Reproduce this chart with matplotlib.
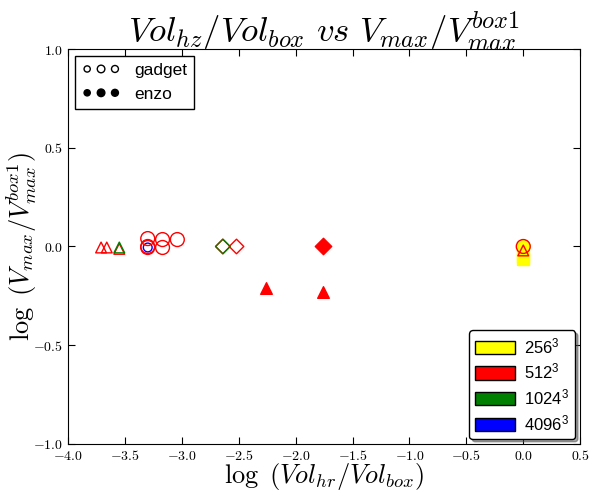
import matplotlib
matplotlib.use("Agg")
import matplotlib.pyplot as plt
from matplotlib.patches import Patch
from matplotlib.legend_handler import HandlerPathCollection
import numpy as np

plt.rcParams['mathtext.fontset'] = 'cm'
plt.rcParams['font.family'] = ['Liberation Sans', 'DejaVu Sans']

# ---- data ----
res_labels = ['256$\\mathregular{^3}$', '512$\\mathregular{^3}$', '1024$\\mathregular{^3}$', '4096$\\mathregular{^3}$']
res_colors = ['yellow', 'red', 'green', 'blue']

# gadget (open markers)
g512_tri_x = [-3.71, -3.66, -3.55, 0.0]
g512_tri_y = [-0.005, -0.005, -0.012, -0.02]
g1024_tri_x = [-3.55]
g1024_tri_y = [-0.005]
g512_circ_x = [-3.30, -3.17, -3.04, -3.30, -3.17, -3.30, 0.0]
g512_circ_y = [0.04, 0.035, 0.035, 0.0, -0.005, -0.005, 0.0]
g4096_circ_x = [-3.30]
g4096_circ_y = [-0.005]
g512_dia_x = [-2.64, -2.52]
g512_dia_y = [0.0, 0.0]
g1024_dia_x = [-2.64]
g1024_dia_y = [0.0]

# enzo (filled markers)
e256_circ_x = [0.0]
e256_circ_y = [0.0]
e256_sq_x = [0.0, 0.0]
e256_sq_y = [-0.05, -0.065]
e512_dia_x = [-1.76]
e512_dia_y = [0.0]
e512_tri_x = [-2.26, -1.76]
e512_tri_y = [-0.21, -0.23]

xticks = [-4.0, -3.5, -3.0, -2.5, -2.0, -1.5, -1.0, -0.5, 0.0, 0.5]
yticks = [-1.0, -0.5, 0.0, 0.5, 1.0]

fig = plt.figure(figsize=(5.92, 4.92), dpi=100)
ax = fig.add_axes([0.115, 0.0976, 0.865, 0.8028])

# enzo filled
ax.scatter(e256_sq_x, e256_sq_y, s=70, marker='s', c='yellow', edgecolors='yellow', zorder=2)
ax.scatter(e256_circ_x, e256_circ_y, s=90, marker='o', c='yellow', edgecolors='yellow', zorder=2)
ax.scatter(e512_dia_x, e512_dia_y, s=70, marker='D', c='red', edgecolors='red', zorder=3)
ax.scatter(e512_tri_x, e512_tri_y, s=70, marker='^', c='red', edgecolors='red', zorder=3)

# gadget open
ax.scatter(g4096_circ_x, g4096_circ_y, s=40, marker='o', facecolors='none', edgecolors='blue', linewidths=1, zorder=3)
ax.scatter(g512_circ_x, g512_circ_y, s=100, marker='o', facecolors='none', edgecolors='red', linewidths=1, zorder=4)
ax.scatter(g512_tri_x, g512_tri_y, s=60, marker='^', facecolors='none', edgecolors='red', linewidths=1, zorder=3)
ax.scatter(g1024_tri_x, g1024_tri_y, s=60, marker='^', facecolors='none', edgecolors='green', linewidths=1, zorder=4)
ax.scatter(g512_dia_x, g512_dia_y, s=55, marker='D', facecolors='none', edgecolors='red', linewidths=1, zorder=3)
ax.scatter(g1024_dia_x, g1024_dia_y, s=55, marker='D', facecolors='none', edgecolors='green', linewidths=1, zorder=4)

ax.set_xlim(-4.0, 0.5)
ax.set_ylim(-1.0, 1.0)
ax.set_xticks(xticks)
ax.set_yticks(yticks)
ax.set_xticklabels(['$%.1f$' % v for v in xticks], fontsize=10)
ax.set_yticklabels(['$%.1f$' % v for v in yticks], fontsize=10)
ax.tick_params(direction='in', top=True, right=True, length=5, width=0.8)

ax.set_title(r'$Vol_{hz}/Vol_{box}\ vs\ V_{max}/V_{max}^{box1}$', fontsize=25, pad=5)
ax.set_xlabel(r'$\log\ (Vol_{hr}/Vol_{box})$', fontsize=19, labelpad=-1)
ax.set_ylabel(r'$\log\ (V_{max}/V_{max}^{box1})$', fontsize=19, labelpad=-4)

# legend 1: code
hg = ax.scatter([], [], s=[25], marker='o', facecolors='none', edgecolors='black', linewidths=1)
he = ax.scatter([], [], s=[25], marker='o', c='black')
leg1 = ax.legend([hg, he], ['gadget', 'enzo'], loc='upper left', scatterpoints=3,
                 scatteryoffsets=[0.5, 0.5, 0.5], fontsize=12.5, fancybox=False,
                 handler_map={hg: HandlerPathCollection(sizes=[20, 30, 25]),
                              he: HandlerPathCollection(sizes=[20, 30, 25])},
                 frameon=True, edgecolor='black', framealpha=1,
                 borderaxespad=0.4, handletextpad=0.8, labelspacing=0.5, handlelength=2.2)
leg1.get_frame().set_linewidth(1)
ax.add_artist(leg1)

# legend 2: resolution
patches = [Patch(facecolor=c, edgecolor='black', label=l) for c, l in zip(res_colors, res_labels)]
leg2 = ax.legend(handles=patches, loc='lower right', fontsize=12, fancybox=True, shadow=True,
                 edgecolor='black', framealpha=1, handlelength=2.4, handleheight=0.85,
                 borderaxespad=0.3, labelspacing=0.35, borderpad=0.35, handletextpad=0.55)
leg2.get_frame().set_linewidth(1)

fig.savefig('out.png', dpi=100)
